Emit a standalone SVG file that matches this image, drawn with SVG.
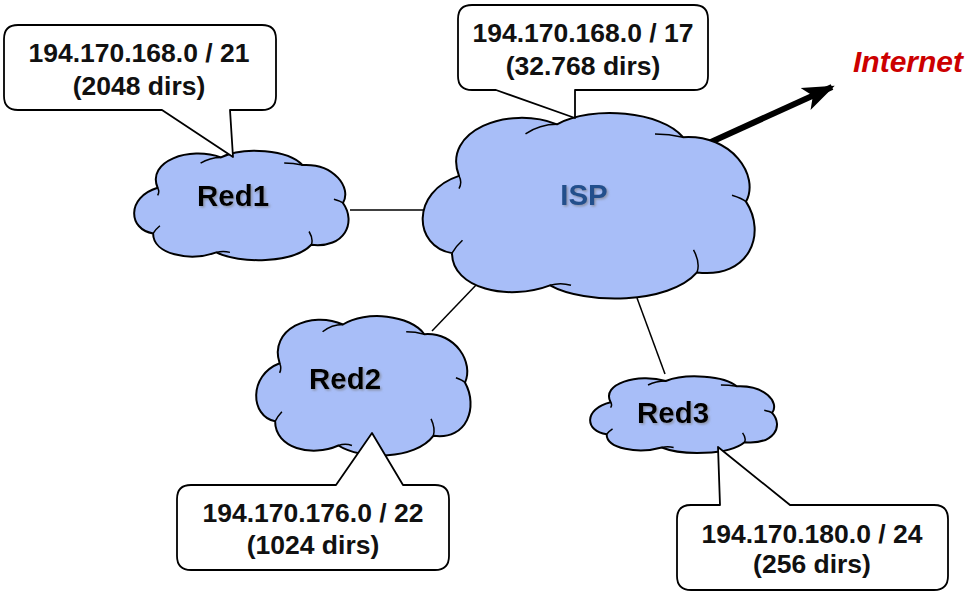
<svg xmlns="http://www.w3.org/2000/svg" width="969" height="594" viewBox="0 0 969 594">
<style>
.cloud{fill:#A8BEF8;stroke:#000;stroke-width:2;vector-effect:non-scaling-stroke;stroke-linejoin:round}
.tick{fill:none;stroke:#000;stroke-width:1.5;vector-effect:non-scaling-stroke}
.callout{fill:#fff;stroke:#000;stroke-width:1.8;stroke-linejoin:round}
.ct{font-family:"Liberation Sans",Arial,sans-serif;font-weight:bold;font-size:26.5px;fill:#111;text-anchor:middle}
.lbl{font-family:"Liberation Sans",Arial,sans-serif;font-weight:bold;font-size:29.5px;fill:#000;text-anchor:middle;filter:url(#sh)}
.conn{stroke:#000;stroke-width:1.5;fill:none}
</style>
<defs>
<filter id="sh" x="-20%" y="-20%" width="140%" height="140%"><feDropShadow dx="1.5" dy="1.5" stdDeviation="0.8" flood-color="#777" flood-opacity="0.6"/></filter>
<path id="cloudShape" class="cloud" d="M14,22 C9,8 28,0 42,6 C52,0 72,2 78,10 C92,9 100,22 96,30 C102,40 97,54 82,52 C74,62 50,62 40,56 C28,61 12,57 12,46 C1,44 0,27 14,22 Z"/>
<path id="cloudTicks" class="tick" d="M42,6 q-5,0 -9,3 M78,10 q-4,-1 -8,-1 M96,30 q-1,-1 -4,-2 M82,52 q1,-3 -1,-7 M40,56 q3,-1 6,0 M12,46 q1,-2 3,-4 M14,22 q1,2 0,4"/>
<marker id="ah" markerUnits="userSpaceOnUse" markerWidth="34" markerHeight="28" refX="29" refY="14" orient="auto"><path d="M0,2 L32,14 L0,26 L8,14 Z" fill="#000"/></marker>
</defs>
<rect width="969" height="594" fill="#fff"/>
<g id="connectors">
<line class="conn" x1="350" y1="210" x2="432" y2="210"/>
<line class="conn" x1="432" y1="331" x2="478" y2="283"/>
<line class="conn" x1="637" y1="298" x2="665" y2="374"/>
<line x1="700" y1="147" x2="832" y2="87" stroke="#000" stroke-width="6" marker-end="url(#ah)"/>
</g>
<g id="Red1">
<g transform="translate(126,146) scale(2.26,1.9)"><use href="#cloudShape"/><use href="#cloudTicks"/></g>
<text class="lbl" x="233" y="206">Red1</text>
</g>
<g id="ISP">
<g transform="translate(410,105) scale(3.5,3.22)"><use href="#cloudShape"/><use href="#cloudTicks"/></g>
<text class="lbl" x="584" y="205" style="fill:#21508C">ISP</text>
</g>
<g id="Red2">
<g transform="translate(248,310) scale(2.26,2.42)"><use href="#cloudShape"/><use href="#cloudTicks"/></g>
<text class="lbl" x="345" y="389">Red2</text>
</g>
<g id="Red3">
<g transform="translate(583,373) scale(1.97,1.33)"><use href="#cloudShape"/><use href="#cloudTicks"/></g>
<text class="lbl" x="673" y="423">Red3</text>
</g>
<g id="callout-red1">
<path class="callout" d="M18,25 H262 Q276,25 276,39 V96 Q276,110 262,110 H230 L233,157 L162,110 H18 Q4,110 4,96 V39 Q4,25 18,25 Z"/>
<text class="ct" x="139" y="62">194.170.168.0 / 21</text>
<text class="ct" x="139" y="95">(2048 dirs)</text>
</g>
<g id="callout-isp">
<path class="callout" d="M472,5 H694 Q708,5 708,19 V76 Q708,90 694,90 H575 L575,118 L496,90 H472 Q458,90 458,76 V19 Q458,5 472,5 Z"/>
<text class="ct" x="583" y="42">194.170.168.0 / 17</text>
<text class="ct" x="583" y="75">(32.768 dirs)</text>
</g>
<g id="callout-red2">
<path class="callout" d="M191,485 H336 L372,433 L403,485 H435 Q449,485 449,499 V556 Q449,570 435,570 H191 Q177,570 177,556 V499 Q177,485 191,485 Z"/>
<text class="ct" x="313" y="522">194.170.176.0 / 22</text>
<text class="ct" x="313" y="554">(1024 dirs)</text>
</g>
<g id="callout-red3">
<path class="callout" d="M691,505 H720 L718,447 L790,505 H934 Q948,505 948,519 V576 Q948,590 934,590 H691 Q677,590 677,576 V519 Q677,505 691,505 Z"/>
<text class="ct" x="812" y="543">194.170.180.0 / 24</text>
<text class="ct" x="812" y="573">(256 dirs)</text>
</g>
<g id="Internet">
<text x="908" y="72" style="font-family:'Liberation Sans',Arial,sans-serif;font-weight:bold;font-style:italic;font-size:30px;fill:#CC0000;text-anchor:middle">Internet</text>
</g>
</svg>
